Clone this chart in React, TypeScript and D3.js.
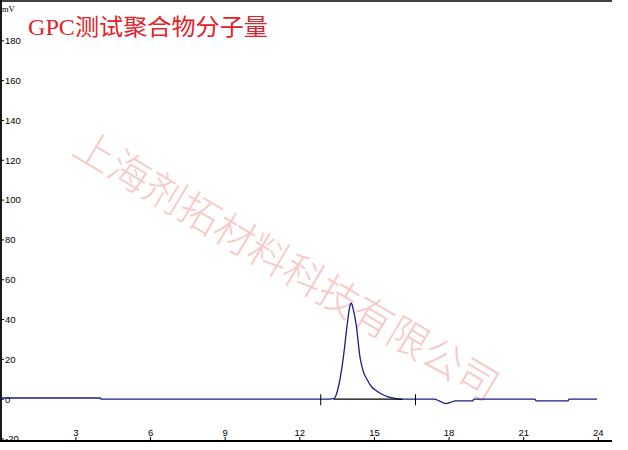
import * as React from "react";
import * as d3 from "d3";

// retention time (min) and detector signal (mV)
const TIME = [
  0, 3.98, 4.02, 12.0, 13.0, 13.37, 13.55, 13.75, 13.91, 14.0, 14.07, 14.15,
  14.26, 14.42, 14.55, 14.72, 14.9, 15.05, 15.3, 15.52, 15.8, 16.12, 17.4,
  17.6, 17.86, 18.05, 18.26, 18.95, 19.0, 21.45, 21.5, 22.78, 22.82, 23.95,
];
const SIGNAL = [
  0.6, 0.6, 0, 0, 0, 0.3, 6, 21, 38, 46, 48.2, 45, 38, 21, 14, 9.5, 6, 4.5,
  2.5, 1.3, 0.5, 0, 0, -0.8, -2.2, -1.6, -0.85, -0.85, 0, 0, -0.85, -0.85, 0,
  0,
];
// integration markers and baseline segment
const MARKERS = [12.84, 16.65];
const PEAK_BASE = [13.37, 16.12];

const X_TICKS = [3, 6, 9, 12, 15, 18, 21, 24];
const Y_TICKS = [-20, 0, 20, 40, 60, 80, 100, 120, 140, 160, 180];

const TITLE = "GPC测试聚合物分子量";
const WATERMARK = "上海剂拓材料科技有限公司";
const Y_UNIT = "mV";

const W = 628;
const H = 450;
const PLOT = { left: 1, right: 612, top: 1, bottom: 441 };

export default function App() {
  const x = d3.scaleLinear().domain([-0.012, 24.55]).range([PLOT.left, PLOT.right]);
  const y = d3.scaleLinear().domain([-21, 200]).range([PLOT.bottom, PLOT.top]);

  const pts = TIME.map((t, i) => [t, SIGNAL[i]] as [number, number]);
  const line = d3
    .line<[number, number]>()
    .x((d) => x(d[0]))
    .y((d) => y(d[1]))
    .curve(d3.curveMonotoneX);

  return (
    <div style={{ position: "fixed", left: 0, top: 0 }}>
      <svg width={W} height={H} style={{ display: "block", background: "#fff" }}>
        {/* watermark */}
        <text
          transform={`translate(288,263) rotate(30.8)`}
          textAnchor="middle"
          dominantBaseline="central"
          fontFamily="'Noto Sans CJK SC', sans-serif"
          fontWeight={300}
          fontSize={40.5}
          fill="#f7caca"
        >
          {WATERMARK}
        </text>

        {/* axes frame */}
        <line x1={0} x2={PLOT.right} y1={PLOT.top} y2={PLOT.top} stroke="#000" strokeWidth={1.6} />
        <line x1={PLOT.left} x2={PLOT.left} y1={0} y2={PLOT.bottom} stroke="#000" strokeWidth={1.8} />
        <line x1={0} x2={PLOT.right} y1={PLOT.bottom} y2={PLOT.bottom} stroke="#000" strokeWidth={1.8} />

        {/* y ticks */}
        {Y_TICKS.map((t) => (
          <g key={`y-${t}`}>
            <line x1={PLOT.left} x2={PLOT.left + 3} y1={y(t)} y2={y(t)} stroke="#000" strokeWidth={1} />
            <text
              x={5}
              y={y(t)}
              dy="0.35em"
              fontFamily="'Liberation Sans', sans-serif"
              fontSize={9.5}
              fill="#000"
            >
              {t}
            </text>
          </g>
        ))}
        <text x={2} y={12} fontFamily="'Liberation Serif', serif" fontSize={8.5} fill="#000">
          {Y_UNIT}
        </text>

        {/* x ticks */}
        {X_TICKS.map((t) => (
          <g key={`x-${t}`}>
            <line x1={x(t)} x2={x(t)} y1={PLOT.bottom - 4} y2={PLOT.bottom} stroke="#000" strokeWidth={1} />
            <text
              x={x(t)}
              y={PLOT.bottom - 5}
              textAnchor="middle"
              fontFamily="'Liberation Sans', sans-serif"
              fontSize={9.5}
              fill="#000"
            >
              {t}
            </text>
          </g>
        ))}

        {/* trace */}
        <path d={line(pts) ?? ""} fill="none" stroke="#1c1c84" strokeWidth={1.3} />
        <line
          x1={x(PEAK_BASE[0])}
          x2={x(PEAK_BASE[1])}
          y1={y(0)}
          y2={y(0)}
          stroke="#000"
          strokeWidth={1.2}
        />
        {MARKERS.map((m) => (
          <line
            key={`m-${m}`}
            x1={x(m)}
            x2={x(m)}
            y1={y(0) - 5}
            y2={y(0) + 6}
            stroke="#000"
            strokeWidth={1}
          />
        ))}

        {/* title */}
        <text
          x={28}
          y={35}
          fontFamily="'Liberation Serif', 'Noto Sans CJK SC', serif"
          fontSize={23}
          textLength={240}
          lengthAdjust="spacingAndGlyphs"
          fill="#e3212b"
        >
          {TITLE}
        </text>
      </svg>
    </div>
  );
}
